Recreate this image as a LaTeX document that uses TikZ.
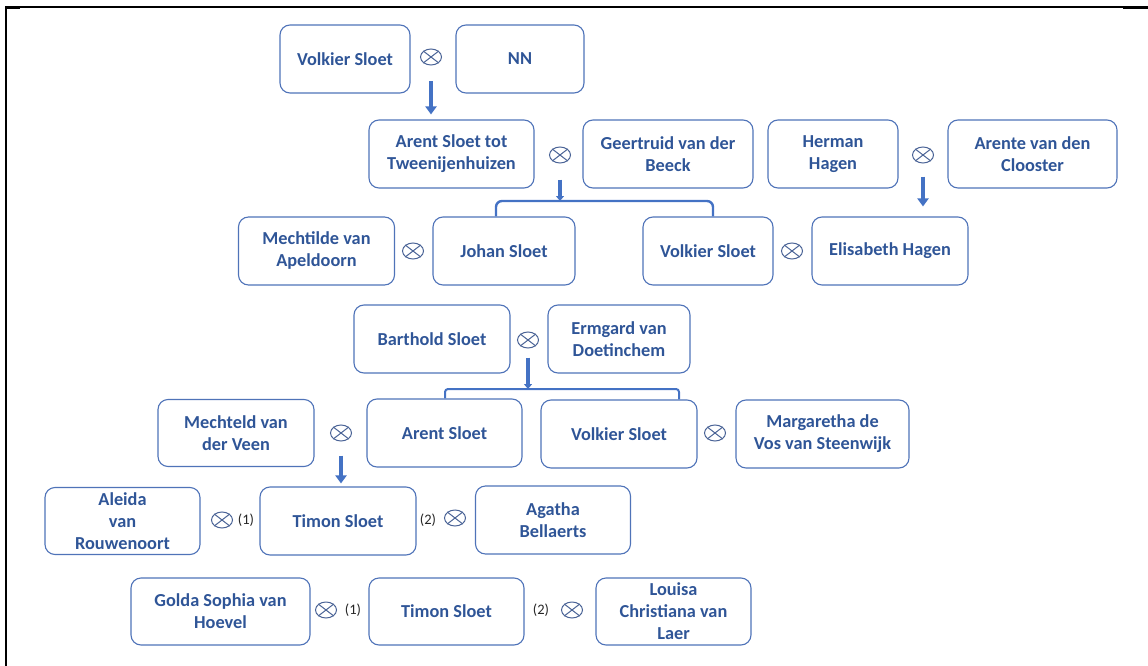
\documentclass[tikz,border=0pt]{standalone}
\usepackage{fontspec}
\setmainfont{Carlito}
\usetikzlibrary{arrows.meta,shapes.geometric}
\definecolor{txtc}{HTML}{2F5597}
\definecolor{boxc}{HTML}{4F73B8}
\definecolor{arrc}{HTML}{4472C4}
\definecolor{marc}{HTML}{4A6396}
\tikzset{
  pbox/.style={draw=boxc, line width=1.1pt, rounded corners=10pt, text=txtc,
    font=\bfseries\fontsize{18.3}{22}\selectfont, align=center, inner sep=0pt},
  marnd/.style={ellipse, draw=marc, line width=1pt, minimum width=21pt, minimum height=16pt, inner sep=0pt},
  marx/.style={draw=marc, line width=1pt},
  conn/.style={draw=arrc, line width=3.5pt, -{Triangle[length=8pt,width=11pt]}},
  branch/.style={draw=arrc, line width=2.4pt, rounded corners=6pt},
  numlbl/.style={font=\fontsize{14.5}{16}\selectfont, text=black!85, inner sep=0pt},
  frame/.style={draw=black, line width=2pt}
}
\newcommand{\marnode}[2]{\node[marnd] (#1) at (#2) {};
  \draw[marx] (#1.north west) -- (#1.south east) (#1.north east) -- (#1.south west);}
\begin{document}
\begin{tikzpicture}[x=1pt,y=-1pt]
\useasboundingbox (0,0) rectangle (1148,666);
% frame
\draw[frame, line width=1.5pt] (5,7) -- (1148,7);
\draw[frame, line width=2.5pt] (6,6.5) -- (6,666);
\draw[frame, line width=3pt] (5,7.5) -- (20,7.5);
\draw[frame, line width=3pt] (1123,8) -- (1148,8);

% row 1
\node[pbox, minimum width=130pt, minimum height=68pt] (v1) at (345,59) {Volkier Sloet};
\marnode{x1}{431,57}
\node[pbox, minimum width=128pt, minimum height=68pt] (nn) at (520,59) {NN};

% row 2
\node[pbox, minimum width=165pt, minimum height=68pt] (arent2) at (451.5,154) {Arent Sloet tot\\Tweenijenhuizen};
\marnode{x2}{560,155}
\node[pbox, minimum width=170pt, minimum height=68pt] (geert) at (668,154) {Geertruid van der\\Beeck};
\node[pbox, minimum width=130pt, minimum height=68pt] (herman) at (833,154) {Herman\\Hagen};
\marnode{x3}{923,155}
\node[pbox, minimum width=169pt, minimum height=68pt] (arente) at (1032.5,154) {Arente van den\\Clooster};

% row 3
\node[pbox, minimum width=156pt, minimum height=68pt] (mecht) at (316.5,251) {Mechtilde van\\Apeldoorn};
\marnode{x4}{413,251}
\node[pbox, minimum width=142pt, minimum height=68pt] (johan) at (504,251) {Johan Sloet};
\node[pbox, minimum width=130pt, minimum height=68pt] (volk3) at (708,251) {Volkier Sloet};
\marnode{x5}{792,251}
\node[pbox, minimum width=156pt, minimum height=68pt] (elis) at (890,251) {Elisabeth Hagen};

% row 4
\node[pbox, minimum width=156pt, minimum height=68pt] (barth) at (432,339) {Barthold Sloet};
\marnode{x6}{528,340}
\node[pbox, minimum width=142pt, minimum height=68pt] (ermg) at (619,339) {Ermgard van\\Doetinchem};

% row 5
\node[pbox, minimum width=156pt, minimum height=67pt] (mechteld) at (236,433) {Mechteld van\\der Veen};
\marnode{x7}{341,433}
\node[pbox, minimum width=155pt, minimum height=68pt] (arent5) at (444.5,433) {Arent Sloet};
\node[pbox, minimum width=156pt, minimum height=68pt] (volk5) at (619,434) {Volkier Sloet};
\marnode{x8}{715,433}
\node[pbox, minimum width=173pt, minimum height=68pt] (marg) at (822.5,434) {Margaretha de\\Vos van Steenwijk};

% row 6
\node[pbox, minimum width=155pt, minimum height=67pt] (aleida) at (122.5,521) {Aleida\\van\\Rouwenoort};
\marnode{x9}{222,520}
\node[numlbl] (n1a) at (246,520) {(1)};
\node[pbox, minimum width=156pt, minimum height=68pt] (timon1) at (338,521) {Timon Sloet};
\node[numlbl] (n2a) at (428,520) {(2)};
\marnode{x10}{455,518}
\node[pbox, minimum width=155pt, minimum height=68pt] (agatha) at (553,520) {Agatha\\Bellaerts};

% row 7
\node[pbox, minimum width=179pt, minimum height=67pt] (golda) at (220.5,611.5) {Golda Sophia van\\Hoevel};
\marnode{x11}{326,610}
\node[numlbl] (n1b) at (353,610) {(1)};
\node[pbox, minimum width=155pt, minimum height=67pt] (timon2) at (446.5,611.5) {Timon Sloet};
\node[numlbl] (n2b) at (541,610) {(2)};
\marnode{x12}{572,610}
\node[pbox, minimum width=155pt, minimum height=67pt] (louisa) at (673.5,611.5) {Louisa\\Christiana van\\Laer};

% connectors
\draw[conn, shorten <=16pt, shorten >=5pt] (x1) -- (x1 |- arent2.north);
\draw[conn, shorten <=13pt, shorten >=10pt] (x3) -- (x3 |- elis.north);
\draw[conn, shorten <=14pt, shorten >=3pt] (x7) -- (x7 |- timon1.north);

\coordinate (b1) at (560,201);
\draw[conn, -{Triangle[length=5pt,width=8pt]}, shorten <=16pt] (x2) -- (b1);
\draw[branch] ([xshift=-8pt]johan.north) |- (b1) -| ([xshift=5pt]volk3.north);

\coordinate (b2) at (528,389);
\draw[conn, -{Triangle[length=5pt,width=8pt]}, shorten <=9pt] (x6) -- (b2);
\draw[branch, line width=2pt, rounded corners=3pt] ([xshift=0.5pt]arent5.north) |- (b2) -| ([xshift=60pt]volk5.north);
\end{tikzpicture}
\end{document}
